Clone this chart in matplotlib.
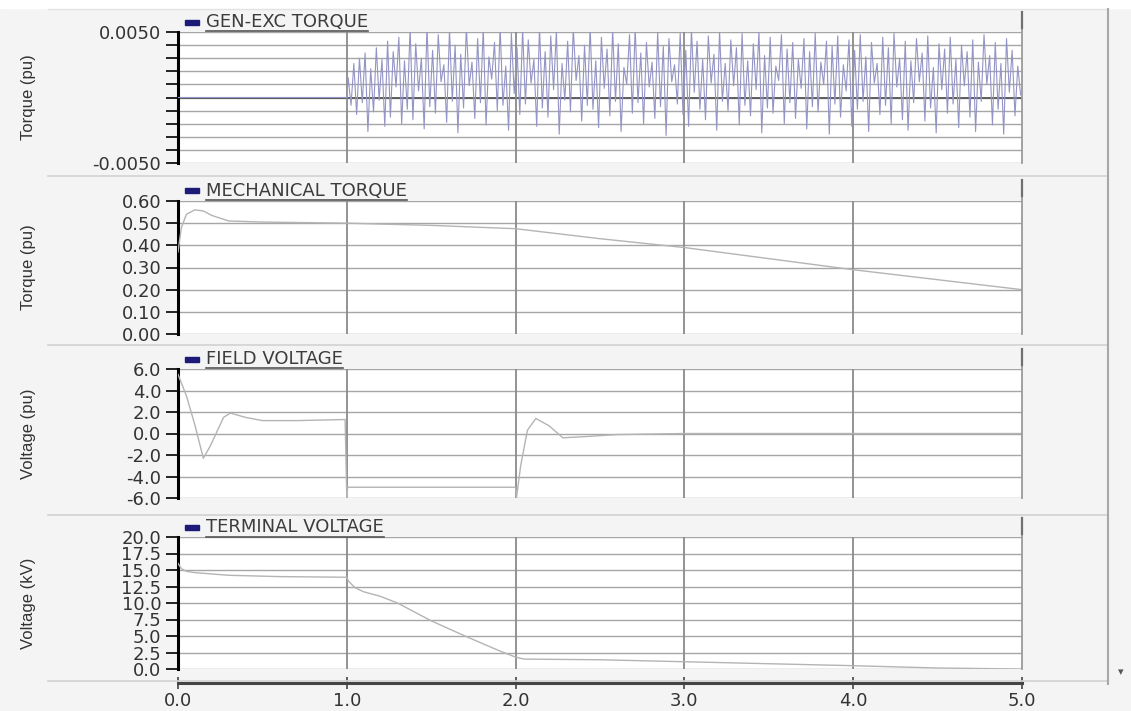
import numpy as np
import matplotlib
matplotlib.use("Agg")
import matplotlib.pyplot as plt
from matplotlib.lines import Line2D
from matplotlib.patches import Rectangle

plt.rcParams["font.family"] = ["DejaVu Sans"]

# --- data (time in s) ---
# GEN-EXC TORQUE: flat zero until 1.0 s, then alternating peaks/troughs (x1e-3 pu)
gen_tops = [1.5, 2.6, 3.0, 3.4, 2.2, 3.8, 2.9, 4.3, 3.5, 4.6,
            2.8, 5.3, 4.1, 3.0, 5.4, 3.6, 4.8, 2.5, 5.2, 4.0,
            3.3, 5.4, 2.7, 4.5, 5.3, 3.1, 4.2, 5.4, 2.4, 4.9,
            3.8, 5.2, 4.4, 2.9, 5.4, 3.5, 4.7, 5.1, 2.6, 4.3,
            5.3, 3.2, 4.0, 5.4, 2.8, 4.6, 3.7, 5.2, 4.1, 2.3,
            4.8, 5.3, 3.4, 4.2, 2.7, 5.0, 3.9, 4.5, 2.5, 4.9,
            3.6, 5.2, 4.3, 2.9, 4.7, 3.3, 5.1, 2.6, 4.4, 3.8,
            4.9, 2.8, 4.1, 5.0, 3.2, 4.6, 2.4, 4.8, 3.7, 4.2,
            2.9, 4.5, 3.5, 4.9, 2.7, 4.3, 3.9, 4.7, 2.5, 4.4,
            3.6, 4.8, 3.1, 4.2, 2.6, 4.6, 3.8, 4.9, 3.0, 4.3,
            2.8, 4.5, 3.4, 4.7, 2.3, 4.1, 3.7, 4.6, 2.9, 4.0,
            3.5, 4.4, 2.7, 4.8, 3.2, 4.2, 2.6, 4.5, 3.6, 2.4]
gen_bots = [-0.6, -1.3, -0.4, -2.6, -1.1, -0.2, -2.2, -1.5, 0.8, -2.0,
            -0.9, -1.7, 0.5, -2.4, -0.7, -1.2, 1.2, -1.9, -0.3, -2.7,
            -0.8, 0.9, -1.6, -0.4, -2.1, 1.4, -1.0, -0.6, -2.5, 0.3,
            -1.3, -0.5, 1.1, -2.2, -0.8, -1.5, 0.6, -2.8, -0.2, -1.1,
            1.3, -1.8, -0.6, -0.9, -2.3, 0.7, -1.4, -0.3, -2.6, 1.0,
            -1.2, -0.4, -2.0, 0.8, -1.6, -0.7, -2.9, 1.2, -0.5, -1.3,
            -2.2, 0.4, -0.9, -1.7, 1.1, -2.5, -0.3, -1.0, 0.9, -2.1,
            -0.6, -1.4, 0.6, -2.7, -0.8, -1.2, 1.3, -2.0, -0.4, -1.6,
            0.7, -2.4, -0.7, -1.1, 1.0, -2.8, -0.5, -1.5, 0.5, -2.2,
            -0.9, -0.3, -2.6, 1.1, -1.3, -0.6, -2.0, 0.8, -1.7, -2.5,
            -0.4, 1.2, -1.8, -0.8, -2.7, 0.6, -1.2, -0.5, -2.3, 0.9,
            -1.5, -2.6, -0.3, 1.0, -2.1, -0.9, -2.8, 0.4, -1.4, 0.2]

mech_t = [0.0, 0.02, 0.05, 0.1, 0.15, 0.2, 0.3, 0.5, 1.0, 1.5, 2.0, 2.5, 3.0, 3.5, 4.0, 4.5, 5.0]
mech_v = [0.37, 0.48, 0.54, 0.56, 0.555, 0.535, 0.51, 0.505, 0.50, 0.49, 0.475, 0.43, 0.39, 0.34, 0.29, 0.245, 0.20]

field_t = [0.0, 0.05, 0.1, 0.15, 0.19, 0.27, 0.31, 0.4, 0.5, 0.7, 0.99, 1.0, 1.005, 1.02, 2.0,
           2.005, 2.03, 2.07, 2.12, 2.2, 2.28, 2.4, 2.6, 3.0, 3.5, 5.0]
field_v = [5.5, 3.5, 0.8, -2.3, -1.2, 1.5, 1.9, 1.5, 1.2, 1.2, 1.3, -6.0, -5.0, -5.0, -5.0,
           -6.0, -3.0, 0.3, 1.4, 0.7, -0.4, -0.3, -0.1, 0.0, 0.0, 0.0]

term_t = [0.0, 0.02, 0.05, 0.1, 0.3, 0.6, 1.0, 1.01, 1.05, 1.1, 1.2, 1.3, 1.5, 1.7, 1.9, 2.0,
          2.05, 2.5, 3.0, 3.5, 4.0, 4.5, 5.0]
term_v = [16.0, 15.2, 14.8, 14.6, 14.2, 14.0, 13.9, 13.3, 12.3, 11.7, 11.0, 10.0, 7.3, 5.0, 2.8, 1.8,
          1.5, 1.4, 1.1, 0.8, 0.5, 0.15, 0.0]

x_ticks = [0, 1, 2, 3, 4, 5]
x_labels = ["0.0", "1.0", "2.0", "3.0", "4.0", "5.0"]

# --- figure geometry (pixels) ---
W, H = 1131, 711
X0, X1 = 178, 1022


def fbox(l, t, r, b):
    return [l / W, 1 - b / H, (r - l) / W, (b - t) / H]


def hline(fig, y, x0, x1, **kw):
    fig.add_artist(Line2D([x0 / W, x1 / W], [1 - y / H, 1 - y / H], transform=fig.transFigure, **kw))


def vline(fig, x, y0, y1, **kw):
    fig.add_artist(Line2D([x / W, x / W], [1 - y0 / H, 1 - y1 / H], transform=fig.transFigure, **kw))


fig = plt.figure(figsize=(W / 100, H / 100), dpi=100)
fig.patch.set_facecolor("#f4f4f4")
fig.add_artist(Rectangle((0, 1 - 8 / H), 1, 8 / H, transform=fig.transFigure, color="white", zorder=0))

# interleave peaks and troughs of the torque oscillation (30 cycles per second)
dt = 1 / 60
gen_vals = np.empty(len(gen_tops) * 2)
gen_vals[0::2] = gen_tops
gen_vals[1::2] = gen_bots
gen_t = 1.0 + dt / 2 + dt * np.arange(len(gen_vals))
gen_t = np.concatenate([[0.0, 1.0], gen_t])
gen_vals = np.concatenate([[0.0, 0.0], gen_vals]) * 1e-3

panels = [
    dict(ptop=10, top=32, bot=163, x=gen_t, y=gen_vals, color="#9494c6", lw=0.8,
         ylim=(-0.005, 0.005), ticks=np.linspace(-0.005, 0.005, 11),
         labels=["-0.0050"] + [""] * 9 + ["0.0050"], ylabel="Torque (pu)", title="GEN-EXC TORQUE"),
    dict(ptop=178, top=201, bot=334, x=mech_t, y=mech_v, color="#b4b4b4", lw=1.0,
         ylim=(0, 0.6), ticks=np.linspace(0, 0.6, 7),
         labels=["0.00", "0.10", "0.20", "0.30", "0.40", "0.50", "0.60"],
         ylabel="Torque (pu)", title="MECHANICAL TORQUE"),
    dict(ptop=347, top=369, bot=498, x=field_t, y=field_v, color="#b4b4b4", lw=1.0,
         ylim=(-6, 6), ticks=np.linspace(-6, 6, 7),
         labels=["-6.0", "-4.0", "-2.0", "0.0", "2.0", "4.0", "6.0"],
         ylabel="Voltage (pu)", title="FIELD VOLTAGE"),
    dict(ptop=516, top=537, bot=669, x=term_t, y=term_v, color="#b4b4b4", lw=1.0,
         ylim=(0, 20), ticks=np.linspace(0, 20, 9),
         labels=["0.0", "2.5", "5.0", "7.5", "10.0", "12.5", "15.0", "17.5", "20.0"],
         ylabel="Voltage (kV)", title="TERMINAL VOLTAGE"),
]

titles = []
for i, p in enumerate(panels):
    ax = fig.add_axes(fbox(X0, p["top"], X1, p["bot"]))
    ax.set_facecolor("white")
    ax.plot(p["x"], p["y"], color=p["color"], lw=p["lw"], zorder=3)
    ax.set_xlim(0, 5)
    ax.set_ylim(*p["ylim"])
    ax.set_yticks(p["ticks"])
    ax.set_yticklabels(p["labels"])
    ax.set_xticks([])
    for t in p["ticks"]:
        ax.axhline(t, color="#a6a6a6", lw=1.0, zorder=1)
    if i == 0:
        ax.axhline(0, color="#555555", lw=1.3, zorder=2)
    for xv in [1, 2, 3, 4]:
        ax.axvline(xv, color="#8a8a8a", lw=1.3, zorder=2)
    ax.tick_params(axis="y", direction="out", length=9, width=1.2, color="black",
                   labelsize=13, labelcolor="#333333", pad=3)
    for s in ["top", "bottom", "right"]:
        ax.spines[s].set_visible(False)
    ax.spines["left"].set_linewidth(2.2)
    ax.spines["left"].set_color("black")
    ax.set_ylabel(p["ylabel"], family="Liberation Sans", fontsize=12, color="#333333")
    ax.yaxis.set_label_coords(-0.168, 0.5)

    # right edge of the plot area, running up into the title band
    vline(fig, X1, p["ptop"] + 2, p["bot"], color="#9a9a9a", lw=1.3)
    vline(fig, X1, p["ptop"] + 2, p["ptop"] + 18, color="#707070", lw=1.6)

    # legend-style title with a navy swatch
    ty = (p["ptop"] + p["top"]) / 2 + 1
    fig.add_artist(Rectangle((185 / W, 1 - (ty + 2.5) / H), 14 / W, 5 / H,
                             transform=fig.transFigure, color="#1c1c78"))
    titles.append((fig.text(206 / W, 1 - ty / H, p["title"], fontsize=13, color="#3c3c3c",
                            va="center", ha="left"), ty))

# separators between panels
for y in [176, 345, 515, 681]:
    hline(fig, y, 48, 1108, color="#d2d2d2", lw=1.2)
hline(fig, 9, 48, 1108, color="#e2e2e2", lw=1.0)
vline(fig, 1108, 9, 684, color="#a8a8a8", lw=1.5)
fig.text(1121 / W, 1 - 672 / H, "\u25be", fontsize=8, color="#555555", ha="center", va="center")

# shared time axis strip at the bottom
axx = fig.add_axes(fbox(X0, 682, X1, 682.5))
axx.set_facecolor("none")
axx.set_xlim(0, 5)
axx.set_yticks([])
axx.set_xticks(x_ticks)
axx.set_xticklabels(x_labels)
for s in ["top", "left", "right"]:
    axx.spines[s].set_visible(False)
axx.spines["bottom"].set_linewidth(2.2)
axx.spines["bottom"].set_color("#444444")
axx.tick_params(axis="x", direction="inout", length=9, width=1.2, color="#444444",
                labelsize=13, labelcolor="#333333", pad=2)

# underline the panel titles
fig.canvas.draw()
r = fig.canvas.get_renderer()
for txt, ty in titles:
    bb = txt.get_window_extent(renderer=r)
    hline(fig, ty + 9, bb.x0, bb.x1, color="#555555", lw=1.2)

fig.savefig("out.png", dpi=100, facecolor=fig.get_facecolor())
